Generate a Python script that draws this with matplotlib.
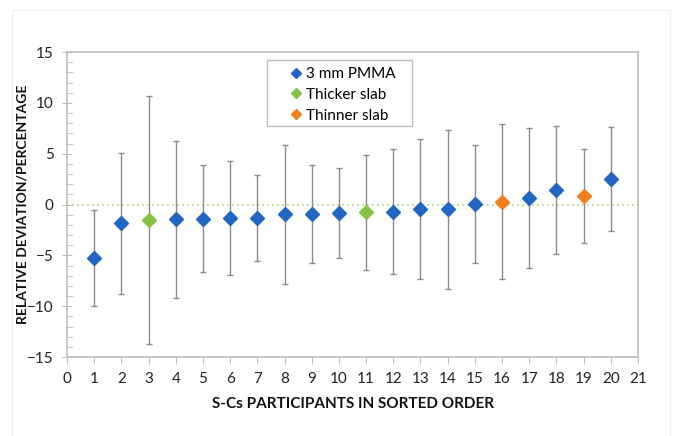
import numpy as np
import matplotlib.pyplot as plt
from matplotlib.patches import Rectangle
from matplotlib.ticker import MultipleLocator

plt.rcParams['font.family'] = ['Lato', 'DejaVu Sans']

# participants in sorted order
participant = np.arange(1, 21)
deviation = [-5.26, -1.86, -1.57, -1.47, -1.40, -1.37, -1.34, -0.98, -0.92, -0.85,
             -0.78, -0.72, -0.46, -0.49, 0.07, 0.29, 0.65, 1.44, 0.82, 2.51]
error = [4.76, 6.93, 12.2, 7.75, 5.26, 5.6, 4.2, 6.83, 4.8, 4.42,
         5.62, 6.16, 6.88, 7.78, 5.83, 7.63, 6.92, 6.27, 4.63, 5.14]
group = ["3 mm PMMA", "3 mm PMMA", "Thicker slab", "3 mm PMMA", "3 mm PMMA",
         "3 mm PMMA", "3 mm PMMA", "3 mm PMMA", "3 mm PMMA", "3 mm PMMA",
         "Thicker slab", "3 mm PMMA", "3 mm PMMA", "3 mm PMMA", "3 mm PMMA",
         "Thinner slab", "3 mm PMMA", "3 mm PMMA", "Thinner slab", "3 mm PMMA"]

colors = {"3 mm PMMA": "#2266C4", "Thicker slab": "#86C243", "Thinner slab": "#F27E22"}

fig = plt.figure(figsize=(6.76, 4.36), dpi=100)
ax = fig.add_axes([67/676, 1 - 357/436, 571/676, 305/436])

# outer chart border
fig.patches.append(Rectangle((12/676, -0.05), (670 - 12)/676, 1.05 - 10/436,
                             transform=fig.transFigure, fill=False,
                             edgecolor="#EEEEEE", linewidth=0.8, zorder=-1))

ax.axhline(0, color="#A9D47A", linestyle=(0, (1, 2)), linewidth=1.2, zorder=1)

ax.errorbar(participant, deviation, yerr=error, fmt='none', ecolor="#8C8C8C",
            elinewidth=1.0, capsize=2.5, capthick=1.0, zorder=2)

dev = np.array(deviation)
grp = np.array(group)
for name in ["3 mm PMMA", "Thicker slab", "Thinner slab"]:
    mask = grp == name
    ax.plot(participant[mask], dev[mask], linestyle='none', marker='D',
            markersize=7, color=colors[name], label=name, zorder=3)

ax.set_xlim(0, 21)
ax.set_ylim(-15, 15)
ax.set_xticks(range(0, 22))
ax.yaxis.set_major_locator(MultipleLocator(5))
ax.yaxis.set_minor_locator(MultipleLocator(1))

for s in ax.spines.values():
    s.set_color("#BFBFBF")
    s.set_linewidth(1.2)

ax.tick_params(axis='x', direction='out', length=5, color="#BFBFBF",
               labelsize=11, pad=6, labelcolor="#222222")
ax.tick_params(axis='y', which='major', direction='inout', length=7, color="#BFBFBF",
               labelsize=11, pad=6, labelcolor="#222222")
ax.tick_params(axis='y', which='minor', direction='in', length=4, color="#BFBFBF")

ax.set_xlabel("S-Cs PARTICIPANTS IN SORTED ORDER", fontsize=11,
              fontweight='bold', labelpad=8, color="#111111")
ax.set_ylabel("RELATIVE DEVIATION/PERCENTAGE", fontsize=10,
              fontweight='bold', color="#111111")
ax.yaxis.set_label_coords(-0.068, 0.5)

# legend box drawn separately so the padding matches
ax.add_patch(Rectangle((0.350, 0.757), 0.254, 0.216, transform=ax.transAxes,
                       facecolor="white", edgecolor="#BFBFBF", linewidth=1.0,
                       zorder=4))
leg = ax.legend(loc='upper left', bbox_to_anchor=(0.375, 0.976), fontsize=11,
                frameon=False, markerscale=0.7, handlelength=1.0,
                handletextpad=0.15, borderpad=0, labelspacing=0.45)
leg.set_zorder(5)

fig.savefig("out.png", dpi=100)
